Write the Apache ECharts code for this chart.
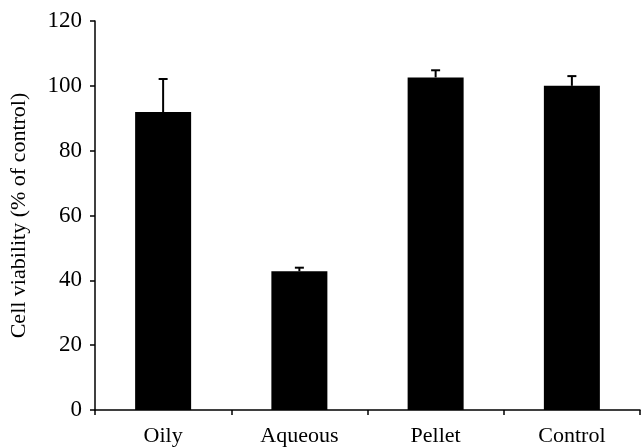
<!DOCTYPE html>
<html>
<head>
<meta charset="utf-8">
<script src="https://cdn.jsdelivr.net/npm/echarts@6/dist/echarts.min.js"></script>
<style>
  html, body { margin: 0; padding: 0; background: #fff; }
  #chart { width: 641px; height: 448px; }
</style>
</head>
<body>
<div id="chart"></div>
<script>
// Cell viability per fraction, mean and upper error (SD)
const categories = ['Oily', 'Aqueous', 'Pellet', 'Control'];
const viability = [91.9, 42.8, 102.6, 100];
const errors = [10.2, 1.1, 2.2, 3.0];
const yTicks = [0, 20, 40, 60, 80, 100, 120];

const FONT = '"Liberation Serif", "Times New Roman", serif';

const chart = echarts.init(document.getElementById('chart'), null, { renderer: 'canvas' });

const errData = categories.map((c, i) => [i, viability[i], viability[i] + errors[i]]);

chart.setOption({
  animation: false,
  backgroundColor: '#ffffff',
  grid: { left: 95, right: 1, top: 21, bottom: 38, containLabel: false, outerBoundsMode: 'none' },
  xAxis: {
    type: 'category',
    data: categories,
    boundaryGap: true,
    axisLine: { lineStyle: { color: '#000', width: 1.5 } },
    axisTick: { show: true, alignWithLabel: false, length: 5, lineStyle: { color: '#000', width: 1.5 } },
    axisLabel: { color: '#000', fontFamily: FONT, fontSize: 22, margin: 15 },
    splitLine: { show: false }
  },
  yAxis: {
    type: 'value',
    min: yTicks[0],
    max: yTicks[yTicks.length - 1],
    interval: 20,
    name: 'Cell viability (% of control)',
    nameLocation: 'middle',
    nameGap: 65,
    nameRotate: 90,
    nameTextStyle: { color: '#000', fontFamily: FONT, fontSize: 22 },
    axisLine: { show: true, lineStyle: { color: '#000', width: 1.5 } },
    axisTick: { show: true, length: 5, lineStyle: { color: '#000', width: 1.5 } },
    axisLabel: { color: '#000', fontFamily: FONT, fontSize: 23, margin: 13 },
    splitLine: { show: false }
  },
  series: [
    {
      type: 'bar',
      data: viability,
      barWidth: 56,
      itemStyle: { color: '#000' },
      z: 2
    },
    {
      type: 'custom',
      data: errData,
      z: 3,
      renderItem: function (params, api) {
        const i = api.value(0);
        const base = api.coord([i, api.value(1)]);
        const top = api.coord([i, api.value(2)]);
        const half = 4.5;
        const style = { stroke: '#000', lineWidth: 2 };
        return {
          type: 'group',
          children: [
            { type: 'line', shape: { x1: base[0], y1: base[1], x2: top[0], y2: top[1] }, style: style },
            { type: 'line', shape: { x1: top[0] - half, y1: top[1], x2: top[0] + half, y2: top[1] }, style: style }
          ]
        };
      }
    }
  ]
});
</script>
</body>
</html>
